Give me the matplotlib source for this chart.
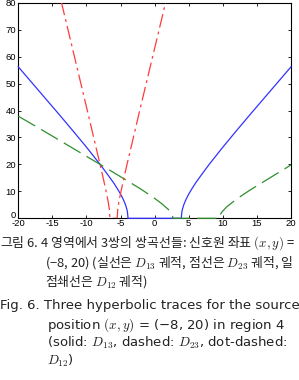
import matplotlib
matplotlib.use("Agg")
import matplotlib.pyplot as plt

plt.rcParams['mathtext.fontset'] = 'cm'
plt.rcParams['axes.unicode_minus'] = False
plt.rcParams['lines.scale_dashes'] = False

# D13 trace (solid, blue)
d13_x = [-20, -18, -16, -14, -12, -10, -9, -8, -7, -6, -5.5, -5, -4.6, -4.3, -4.1, -4.0, -3.9,
         3.9, 4.0, 4.1, 4.3, 4.6, 5, 5.5, 6, 7, 8, 9, 10, 12, 14, 16, 18, 20]
d13_y = [56.2, 50.3, 44.4, 38.5, 32.5, 26.4, 23.2, 20.0, 16.6, 13.1, 11.1, 9.0, 7.0, 5.2, 3.6, 2.5, 0,
         0, 2.5, 3.6, 5.2, 7.0, 9.0, 11.1, 13.1, 16.6, 20.0, 23.2, 26.4, 32.5, 38.5, 44.4, 50.3, 56.2]

# D23 trace (dashed, green)
d23_x = [-20, -16, -12, -8, -4, -2, 0, 1, 2, 2.4, 2.6, 2.68,
         9.5, 9.6, 9.8, 10.5, 12, 14, 16, 18, 20]
d23_y = [37.9, 32.0, 26.0, 20.0, 13.9, 10.8, 7.4, 5.5, 3.3, 2.1, 1.1, 0,
         0, 1.2, 2.1, 4.1, 7.1, 10.5, 13.6, 16.7, 19.8]

# D12 trace (dot-dashed, red)
d12_x = [-13.7, -12, -10, -8, -7.5, -7, -6.8, -6.65, -6.56,
         -5.5, -5.41, -5.26, -5.06, -4.56, -4, -2, 0, 1.6, 2]
d12_y = [80.4, 62.5, 41.3, 19.9, 14.4, 8.5, 5.9, 3.4, 0,
         0, 3.4, 5.9, 8.5, 14.4, 20.6, 42.0, 63.1, 80.0, 84.2]

x_ticks = [-20, -15, -10, -5, 0, 5, 10, 15, 20]
y_ticks = [0, 10, 20, 30, 40, 50, 60, 70, 80]

caption_kr = [
    ("그림 6. 4 영역에서 3쌍의 쌍곡선들: 신호원 좌표 $(x, y)$ =", 0.0, 243),
    ("(−8, 20) (실선은 $D_{13}$ 궤적, 점선은 $D_{23}$ 궤적, 일", 45.0, 263),
    ("점쇄선은 $D_{12}$ 궤적)", 45.0, 282),
]
caption_en = [
    ("Fig. 6. Three hyperbolic traces for the source", 0.0, 306),
    ("position $(x, y)$ = (−8, 20) in region 4", 47.0, 325),
    ("(solid: $D_{13}$, dashed: $D_{23}$, dot-dashed:", 47.0, 343),
    ("$D_{12}$)", 47.0, 361),
]

W, H = 299, 380
fig = plt.figure(figsize=(W / 100, H / 100), dpi=100)
ax = fig.add_axes([18.3 / W, 1 - 218.3 / H, (291 - 18.3) / W, (218.3 - 2.7) / H])

ax.plot(d13_x, d13_y, color='#3333ff', lw=0.9, zorder=4, clip_on=False)
ax.plot(d23_x, d23_y, color='#2e8f2e', lw=0.9, dashes=(14, 5), zorder=4, clip_on=False)
ax.plot(d12_x, d12_y, color='#ff3b3b', lw=0.9, dashes=(10, 3, 2, 3), zorder=4)

ax.set_xlim(-20, 20)
ax.set_ylim(0, 80)
ax.set_xticks(x_ticks)
ax.set_xticklabels([str(v) for v in x_ticks])
ax.set_yticks(y_ticks)
ax.set_yticklabels([str(v) for v in y_ticks])
ax.tick_params(direction='in', length=2.5, width=0.6, labelsize=6.8,
               top=True, right=True)
ax.tick_params(axis='x', pad=0.8)
ax.tick_params(axis='y', pad=1.5)
for lab in ax.get_xticklabels() + ax.get_yticklabels():
    lab.set_family('Liberation Sans')
ax.get_yticklabels()[0].set_va('baseline')
for s in ax.spines.values():
    s.set_linewidth(0.8)
    s.set_zorder(3)

for txt, xpx, ypx in caption_kr:
    fig.text(xpx / W, 1 - ypx / H, txt, ha='left', va='center', fontsize=9.3,
             family='Noto Sans CJK KR', color='#222222')
for txt, xpx, ypx in caption_en:
    fig.text(xpx / W, 1 - ypx / H, txt, ha='left', va='center', fontsize=9.5,
             family='DejaVu Sans', color='#222222')

fig.savefig('out.png', dpi=100)
